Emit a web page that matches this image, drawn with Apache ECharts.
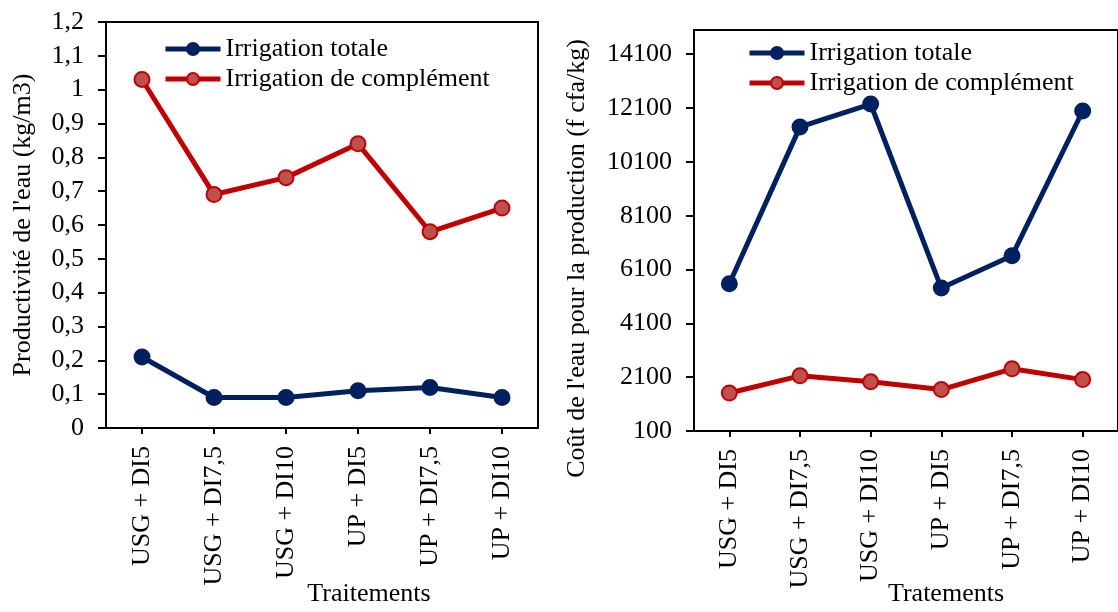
<!DOCTYPE html>
<html style="height: 100%">
  <head>
    <meta charset="utf-8" />
  </head>
  <body style="height: 100%; margin: 0; background: #fff">
    <div id="container" style="width: 1118px; height: 612px"></div>
    <script src="https://cdn.jsdelivr.net/npm/echarts@6/dist/echarts.min.js"></script>
    <script type="text/javascript">
      // traitements (axe des x, communs aux deux graphiques)
      var categories = ['USG + DI5', 'USG + DI7,5', 'USG + DI10', 'UP + DI5', 'UP + DI7,5', 'UP + DI10'];
      var seriesNames = ['Irrigation totale', 'Irrigation de complément'];

      // graphique de gauche : productivité de l'eau (kg/m3)
      var prodTotale = [0.21, 0.09, 0.09, 0.11, 0.12, 0.09];
      var prodComplement = [1.03, 0.69, 0.74, 0.84, 0.58, 0.65];

      // graphique de droite : coût de l'eau (f cfa/kg)
      var coutTotale = [5570, 11400, 12250, 5410, 6610, 11990];
      var coutComplement = [1510, 2150, 1930, 1640, 2410, 2010];

      var dom = document.getElementById('container');
      var myChart = echarts.init(dom, null, { renderer: 'canvas' });

      var font = 'Liberation Serif';
      var fs = 26;
      var blue = '#002060';
      var red = '#C00000';
      var redFill = '#C0504D';

      function xAxisFor(idx, name, pad, gap) {
        return {
          type: 'category',
          gridIndex: idx,
          data: categories,
          name: name,
          nameLocation: 'middle',
          nameGap: gap,
          nameMoveOverlap: false,
          nameTextStyle: { fontFamily: font, fontSize: fs, color: '#000', padding: [0, 0, 0, pad] },
          axisLine: { lineStyle: { color: '#000', width: 2 } },
          axisTick: { show: true, length: 6, lineStyle: { color: '#000', width: 2 }, alignWithLabel: true },
          axisLabel: { rotate: 90, margin: 18, fontFamily: font, fontSize: fs, color: '#000', interval: 0 },
          splitLine: { show: false }
        };
      }

      function legendAt(left, top) {
        return {
          left: left, top: top, orient: 'vertical', padding: 0,
          itemWidth: 55, itemHeight: 15, itemGap: 4,
          lineStyle: { width: 5 },
          textStyle: { fontFamily: font, fontSize: fs, color: '#000', lineHeight: 26 },
          data: seriesNames
        };
      }

      function lineSeries(name, data, xi, color, fill) {
        return {
          name: name,
          type: 'line',
          xAxisIndex: xi,
          yAxisIndex: xi,
          data: data,
          symbol: 'circle',
          symbolSize: 15,
          lineStyle: { color: color, width: 5 },
          itemStyle: { color: fill, borderColor: color, borderWidth: 2 },
          emphasis: { disabled: true },
          z: name === seriesNames[0] ? 3 : 2
        };
      }

      var option = {
        animation: false,
        grid: [
          { left: 106, top: 22, width: 432, height: 416, show: true, borderColor: '#000', borderWidth: 2 },
          { left: 694, top: 30, width: 432, height: 414, show: true, borderColor: '#000', borderWidth: 2 }
        ],
        legend: [legendAt(163, 36), legendAt(747, 40)],
        xAxis: [xAxisFor(0, 'Traitements', 94, 153), xAxisFor(1, 'Tratements', 80, 150)],
        yAxis: [
          {
            type: 'value',
            gridIndex: 0,
            min: 0,
            max: 1.2,
            interval: 0.1,
            name: "Productivité de l'eau (kg/m3)",
            nameLocation: 'middle',
            nameGap: 70,
            nameMoveOverlap: false,
            nameTextStyle: { fontFamily: font, fontSize: fs, color: '#000' },
            axisLine: { show: true, lineStyle: { color: '#000', width: 2 } },
            axisTick: { show: true, length: 8, lineStyle: { color: '#000', width: 2 } },
            axisLabel: {
              margin: 22, fontFamily: font, fontSize: fs, color: '#000',
              formatter: function (v) {
                return (Math.round(v * 10) / 10).toString().replace('.', ',');
              }
            },
            splitLine: { show: false }
          },
          {
            type: 'value',
            gridIndex: 1,
            min: 100,
            max: 15000,
            interval: 2000,
            name: "Coût de l'eau pour la production (f cfa/kg)",
            nameLocation: 'middle',
            nameGap: 104,
            nameMoveOverlap: false,
            nameTextStyle: { fontFamily: font, fontSize: fs, color: '#000', padding: [0, 56, 0, 0] },
            axisLine: { show: true, lineStyle: { color: '#000', width: 2 } },
            axisTick: { show: true, length: 8, lineStyle: { color: '#000', width: 2 } },
            axisLabel: {
              margin: 22, fontFamily: font, fontSize: fs, color: '#000', showMaxLabel: false,
              formatter: function (v) {
                return String(Math.round(v));
              }
            },
            splitLine: { show: false }
          }
        ],
        series: [
          lineSeries(seriesNames[0], prodTotale, 0, blue, blue),
          lineSeries(seriesNames[1], prodComplement, 0, red, redFill),
          lineSeries(seriesNames[0], coutTotale, 1, blue, blue),
          lineSeries(seriesNames[1], coutComplement, 1, red, redFill)
        ]
      };

      myChart.setOption(option);
    </script>
  </body>
</html>
